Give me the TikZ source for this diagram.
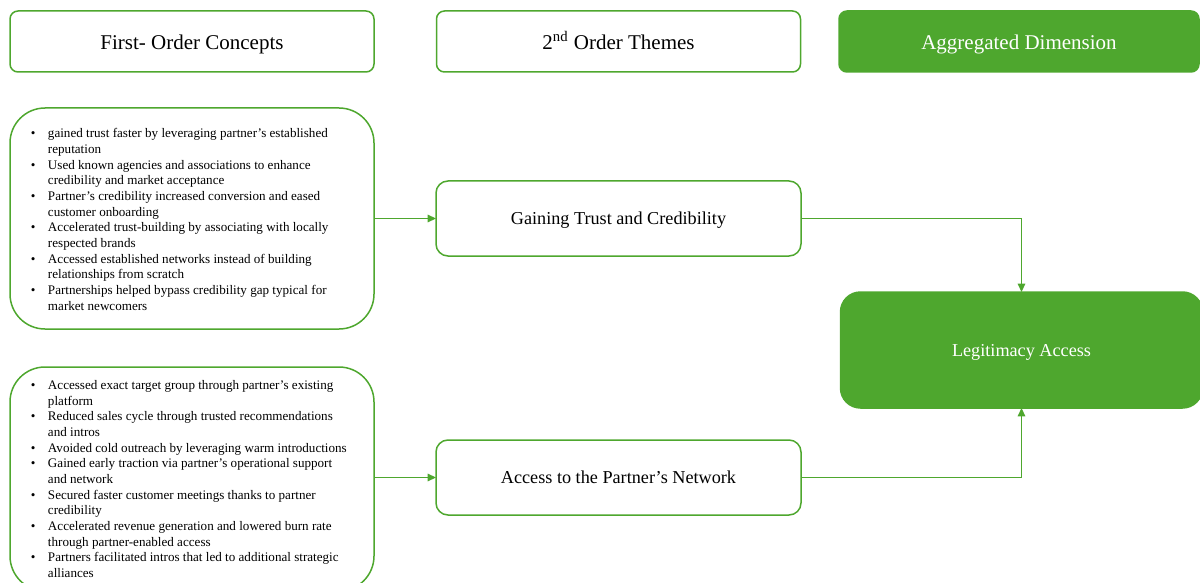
\documentclass[tikz,border=0pt]{standalone}
\usepackage{fontspec}
\setmainfont{Liberation Serif}
\usetikzlibrary{arrows.meta}
\definecolor{leaf}{HTML}{4EA72E}
\newcommand{\bul}{\makebox[8.5pt][l]{\textbullet}}
\newcommand{\cont}{\makebox[8.5pt][l]{}}
\begin{document}
\begin{tikzpicture}[x=0.5pt,y=-0.5pt,
  outline/.style={draw=leaf,line width=0.75pt,fill=white,outer sep=0pt,inner sep=0pt,align=center},
  solid/.style={draw=leaf,line width=0.75pt,fill=leaf,text=white,outer sep=0pt,inner sep=0pt,align=center},
  head/.style={font=\fontsize{10.5pt}{12pt}\selectfont,text height=10pt,text depth=1.8pt,minimum height=30.5pt,rounded corners=4pt},
  midtext/.style={font=\fontsize{9.1pt}{11pt}\selectfont,text height=7.5pt,text depth=1.4pt},
  theme/.style={outline,midtext,minimum width=182.5pt,minimum height=37.5pt,rounded corners=6pt},
  concept/.style={outline,minimum width=182pt,rounded corners=17.5pt},
  list/.style={anchor=north west,inner sep=0pt,outer sep=0pt,align=left,font=\fontsize{6.55pt}{7.83pt}\selectfont},
  arr/.style={draw=leaf,line width=0.6pt,-{Triangle[length=4.2pt,width=3.8pt]}}]
\useasboundingbox (0,0) rectangle (1200,583);
\clip (0,0) rectangle (1200,583);

% column headings
\node[outline,head,minimum width=182pt] (h1) at (192,41.5) {First- Order Concepts};
\node[outline,head,minimum width=182pt] (h2) at (618.5,41.5) {2\textsuperscript{nd} Order Themes};
\node[solid,head,minimum width=180pt] (h3) at (1019,41.5) {Aggregated Dimension};

% first-order concept boxes
\node[concept,minimum height=110.5pt] (c1) at (192,218.5) {};
\node[concept,minimum height=112pt] (c2) at (192,479) {};

\node[list] (l1) at (31,127) {%
\begin{tabular}{@{}l@{}}
\bul gained trust faster by leveraging partner’s established\\
\cont reputation\\
\bul Used known agencies and associations to enhance\\
\cont credibility and market acceptance\\
\bul Partner’s credibility increased conversion and eased\\
\cont customer onboarding\\
\bul Accelerated trust-building by associating with locally\\
\cont respected brands\\
\bul Accessed established networks instead of building\\
\cont relationships from scratch\\
\bul Partnerships helped bypass credibility gap typical for\\
\cont market newcomers
\end{tabular}};

\node[list] (l2) at (31,378.5) {%
\begin{tabular}{@{}l@{}}
\bul Accessed exact target group through partner’s existing\\
\cont platform\\
\bul Reduced sales cycle through trusted recommendations\\
\cont and intros\\
\bul Avoided cold outreach by leveraging warm introductions\\
\bul Gained early traction via partner’s operational support\\
\cont and network\\
\bul Secured faster customer meetings thanks to partner\\
\cont credibility\\
\bul Accelerated revenue generation and lowered burn rate\\
\cont through partner-enabled access\\
\bul Partners facilitated intros that led to additional strategic\\
\cont alliances
\end{tabular}};

% second-order themes
\node[theme] (t1) at (618.5,218.5) {Gaining Trust and Credibility};
\node[theme] (t2) at (618.5,477.5) {Access to the Partner’s Network};

% aggregated dimension
\node[solid,midtext,minimum width=181pt,minimum height=58pt,rounded corners=10pt] (agg) at (1021.5,350) {Legitimacy Access};

% connectors
\draw[arr] (c1.east) -- (t1.west);
\draw[arr] (c2.east |- t2.west) -- (t2.west);
\draw[arr] (t1.east) -| (agg.north);
\draw[arr] (t2.east) -| (agg.south);
\end{tikzpicture}
\end{document}
